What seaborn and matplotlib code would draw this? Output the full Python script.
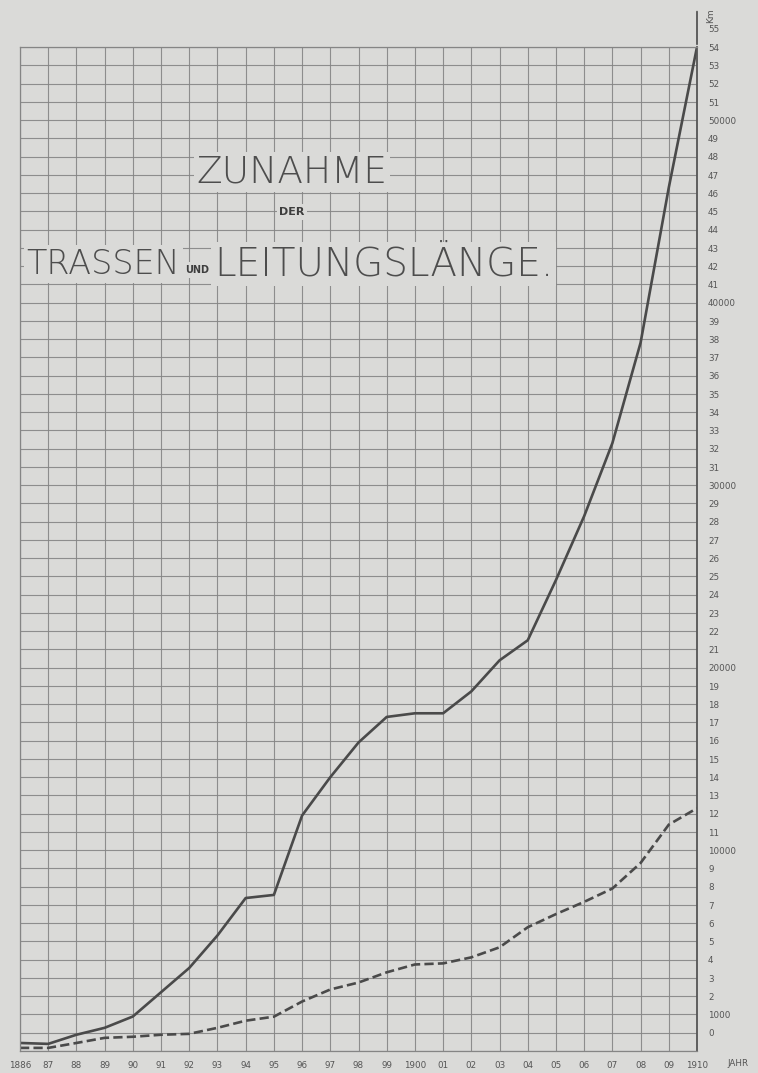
import numpy as np
import pandas as pd
import matplotlib
matplotlib.use("Agg")
import matplotlib.pyplot as plt
import matplotlib.transforms as mtransforms
import seaborn as sns

# ---- data (km) ----
years = list(range(1886, 1911))
leitung_km = [440, 390, 890, 1270, 1890, 3220, 4550, 6330, 8380, 8550,
              12900, 15000, 16900, 18300, 18500, 18500, 19700, 21400, 22500,
              25800, 29300, 33300, 38800, 47300, 55000]
trassen_km = [170, 170, 440, 720, 780, 890, 940, 1270, 1660, 1880,
              2710, 3370, 3750, 4310, 4740, 4800, 5130, 5680, 6780,
              7500, 8170, 8900, 10300, 12400, 13300]
x_labels = ["1886", "87", "88", "89", "90", "91", "92", "93", "94", "95", "96",
            "97", "98", "99", "1900", "01", "02", "03", "04", "05", "06", "07",
            "08", "09", "1910"]
y_ticks = list(range(0, 56000, 1000))
y_labels = [(str(v // 1000) if v % 10000 else str(v)) for v in y_ticks]
y_labels[1] = "1000"

df = pd.DataFrame({
    "Jahr": years * 2,
    "km": leitung_km + trassen_km,
    "Serie": ["Leitungslänge"] * len(years) + ["Trassenlänge"] * len(years),
})

BG = "#dadad8"
GRID = "#858585"
INK = "#4a4a4a"

sns.set_theme(style="white")
plt.rcParams["font.family"] = ["DejaVu Sans"]

W, H = 758, 1073
fig = plt.figure(figsize=(W / 100, H / 100), dpi=100, facecolor=BG)
left, right, top, bottom = 20, 697, 47, 1051
ax = fig.add_axes([left / W, 1 - bottom / H, (right - left) / W, (bottom - top) / H])
ax.set_facecolor(BG)

sns.lineplot(data=df, x="Jahr", y="km", style="Serie", ax=ax,
             color=INK, linewidth=1.9, legend=False,
             dashes={"Leitungslänge": "", "Trassenlänge": (3.5, 1.6)})

ax.set_xlim(years[0], years[-1])
ax.set_ylim(0, 55000)

ax.set_xticks(years)
ax.set_xticklabels(x_labels, fontsize=6.3, color="#555555")
ax.set_yticks(y_ticks)
ax.yaxis.tick_right()
ax.set_yticklabels(y_labels, fontsize=6.3, color="#555555")
ax.tick_params(axis="both", length=0)
ax.tick_params(axis="x", pad=7)
ax.tick_params(axis="y", pad=8)
offset = mtransforms.ScaledTranslation(0, 0.18, fig.dpi_scale_trans)
for lab in ax.get_yticklabels():
    lab.set_transform(lab.get_transform() + offset)

ax.grid(True, which="major", color=GRID, linewidth=0.8, alpha=0.9)
ax.set_axisbelow(True)
for s in ["left", "top", "bottom"]:
    ax.spines[s].set_color(GRID)
    ax.spines[s].set_linewidth(0.9)
ax.spines["right"].set_color("#555555")
ax.spines["right"].set_linewidth(1.3)
ax.set_xlabel("")
ax.set_ylabel("")

# axis arrow and units
ax.annotate("", xy=(1, 1.038), xytext=(1, 1.0), xycoords="axes fraction",
            arrowprops=dict(arrowstyle="-", color="#555555", lw=1.3),
            annotation_clip=False)
fig.text(711 / W, 1 - 16 / H, "Km", rotation=90, fontsize=6.5,
         color="#555555", ha="center", va="center")
fig.text(738 / W, 1 - 1063 / H, "JAHR", fontsize=6.3, color="#555555",
         ha="center", va="center")

# title lettering
tkw = dict(color="#4d4d4d", family=["DejaVu Sans"], fontweight="light")
box = dict(facecolor=BG, edgecolor="none", pad=2)
fig.text(292 / W, 1 - 172 / H, "ZUNAHME", fontsize=27, ha="center",
         va="center", bbox=box, **tkw)
fig.text(292 / W, 1 - 212 / H, "DER", fontsize=8, ha="center", va="center",
         bbox=box, color="#3d3d3d", family=["DejaVu Sans"], fontweight="bold")
fig.text(180 / W, 1 - 264 / H, "TRASSEN", fontsize=24, ha="right",
         va="center", bbox=box, **tkw)
fig.text(197 / W, 1 - 270 / H, "UND", fontsize=7, ha="center", va="center",
         bbox=box, color="#3d3d3d", family=["DejaVu Sans"], fontweight="bold")
fig.text(214 / W, 1 - 264 / H, "LEITUNGSLÄNGE.", fontsize=28, ha="left",
         va="center", bbox=box, **tkw)

fig.savefig("out.png", dpi=100, facecolor=BG)
